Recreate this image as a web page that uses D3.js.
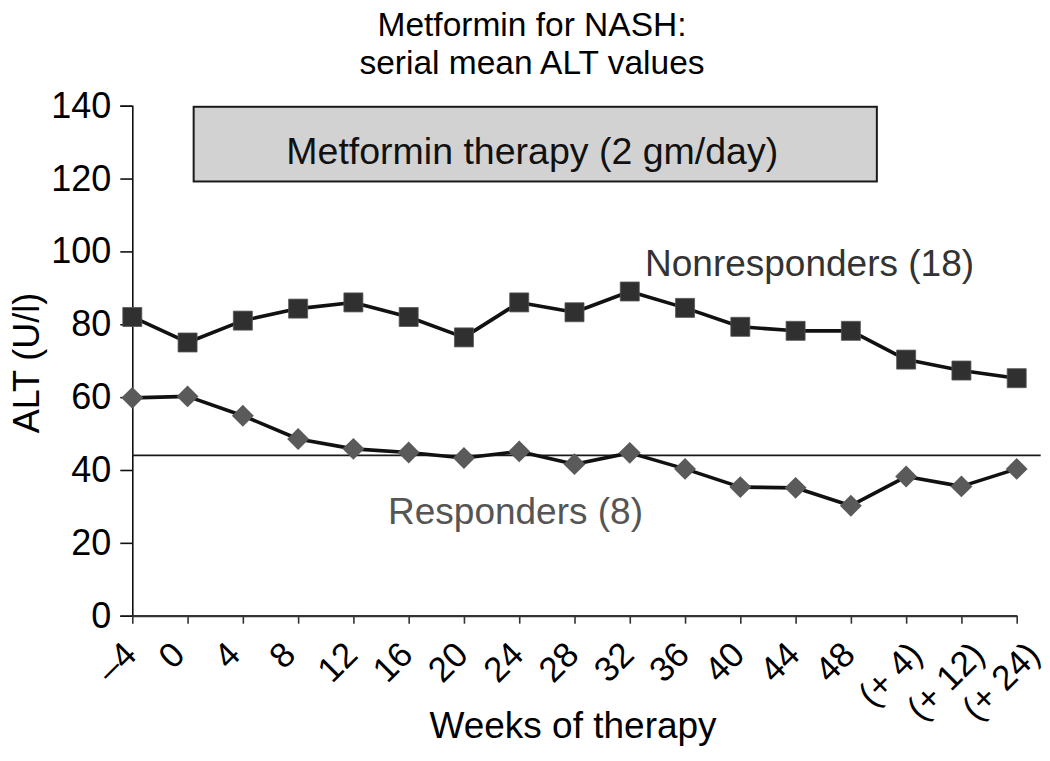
<!DOCTYPE html>
<html>
<head>
<meta charset="utf-8">
<script src="https://cdn.jsdelivr.net/npm/d3@7"></script>
<style>
  body { margin: 0; background: #fff; }
  svg { font-family: "Liberation Sans", Arial, Helvetica, sans-serif; }
</style>
</head>
<body>
<div id="chart"></div>
<script>
// categories along the x axis (weeks of therapy, then weeks after stopping)
var weeks = ["\u20134", "0", "4", "8", "12", "16", "20", "24", "28", "32", "36", "40", "44", "48", "(+ 4)", "(+ 12)", "(+ 24)"];

// mean ALT (U/l) per visit
var nonresponders = [82, 75, 81, 84.3, 86, 82, 76.4, 86, 83.3, 89, 84.5, 79.3, 78.2, 78.2, 70.3, 67.3, 65.2];
var responders = [59.8, 60.2, 54.9, 48.5, 45.8, 44.8, 43.3, 45.1, 41.6, 44.7, 40.3, 35.3, 35.1, 30.2, 38.2, 35.5, 40.3];

var yTicks = [0, 20, 40, 60, 80, 100, 120, 140];
var upperNormal = 44;           // horizontal reference line
var therapyWeeks = ["0", "48"]; // span of the grey therapy box
var therapyBand = [119.2, 139.7];

var _width = 1050, _height = 761;
var _fontSize = 36;
var _labelFont = 37;

var svg = d3.select("#chart").append("svg")
    .attr("width", _width)
    .attr("height", _height);

var x = d3.scalePoint()
    .domain(weeks)
    .range([132.3, 1016.7])
    .padding(0);

var y = d3.scaleLinear()
    .domain([0, 140])
    .range([615.7, 105.7]);

// title
svg.append("text")
    .attr("x", 532).attr("y", 36)
    .attr("text-anchor", "middle")
    .style("font-size", "33.5px")
    .text("Metformin for NASH:");
svg.append("text")
    .attr("x", 532).attr("y", 74)
    .attr("text-anchor", "middle")
    .style("font-size", "33.5px")
    .text("serial mean ALT values");

// therapy box
var step = x.step();
var boxX0 = x(therapyWeeks[0]) + step * 0.11;
var boxX1 = x(therapyWeeks[1]) + step * 0.47;
svg.append("rect")
    .attr("x", boxX0)
    .attr("y", y(therapyBand[1]))
    .attr("width", boxX1 - boxX0)
    .attr("height", y(therapyBand[0]) - y(therapyBand[1]))
    .attr("fill", "#d2d2d2")
    .attr("stroke", "#1a1a1a")
    .attr("stroke-width", 2);
svg.append("text")
    .attr("x", (boxX0 + boxX1) / 2 - 3)
    .attr("y", 164)
    .attr("text-anchor", "middle")
    .style("font-size", "37.5px")
    .attr("fill", "#111")
    .text("Metformin therapy (2 gm/day)");

// y axis
var yAxis = svg.append("g")
    .attr("transform", "translate(" + x(weeks[0]) + ",0)")
    .call(d3.axisLeft(y).tickValues(yTicks).tickSize(12).tickPadding(9));
yAxis.select(".domain").attr("stroke", "#111").attr("stroke-width", 1.6);
yAxis.selectAll(".tick line").attr("stroke", "#111").attr("stroke-width", 1.6);
yAxis.selectAll(".tick text")
    .attr("font-family", null)
    .style("font-size", _fontSize + "px")
    .attr("fill", "#000");

// x axis
var xAxis = svg.append("g")
    .attr("transform", "translate(0," + y(0) + ")")
    .call(d3.axisBottom(x).tickSize(8).tickSizeOuter(0));
xAxis.select(".domain").attr("stroke", "#333").attr("stroke-width", 2.2);
xAxis.selectAll(".tick line").attr("stroke", "#333").attr("stroke-width", 1.6);

// rotated tick labels: centre the rotated box below each tick
var labelDx = -17, labelTop = 639, labelSize = 35;
xAxis.selectAll(".tick text")
    .attr("font-family", null)
    .style("font-size", labelSize + "px")
    .attr("fill", "#000")
    .attr("text-anchor", "middle")
    .attr("dy", null)
    .attr("y", 0)
    .each(function(d) {
        var L = this.getComputedTextLength();
        var c = 0.72 * labelSize;
        var ax = labelDx + 0.354 * c;
        var ay = (labelTop - y(0)) + 0.707 * (c + L / 2);
        d3.select(this).attr("transform", "translate(" + ax + "," + ay + ") rotate(-45)");
    });

// axis titles
svg.append("text")
    .attr("x", 573).attr("y", 738)
    .attr("text-anchor", "middle")
    .style("font-size", _labelFont + "px")
    .text("Weeks of therapy");
svg.append("text")
    .attr("transform", "translate(39,363) rotate(-90)")
    .attr("text-anchor", "middle")
    .style("font-size", _fontSize + "px")
    .text("ALT (U/l)");

// reference line
svg.append("line")
    .attr("x1", x(weeks[0]))
    .attr("x2", x(weeks[weeks.length - 1]) + 24)
    .attr("y1", y(upperNormal))
    .attr("y2", y(upperNormal))
    .attr("stroke", "#1a1a1a")
    .attr("stroke-width", 1.6);

var line = d3.line()
    .x(function(d, i) { return x(weeks[i]); })
    .y(function(d) { return y(d); });

// series lines
[nonresponders, responders].forEach(function(s) {
    svg.append("path")
        .datum(s)
        .attr("d", line)
        .attr("fill", "none")
        .attr("stroke", "#111")
        .attr("stroke-width", 3.6)
        .attr("stroke-linejoin", "round");
});

// square markers
svg.append("g").selectAll("path")
    .data(nonresponders)
    .enter().append("path")
    .attr("transform", function(d, i) { return "translate(" + x(weeks[i]) + "," + y(d) + ")"; })
    .attr("d", d3.symbol().type(d3.symbolSquare).size(19 * 19))
    .attr("fill", "#303030")
    .attr("stroke", "#555")
    .attr("stroke-width", 0.8);

// diamond markers
svg.append("g").selectAll("path")
    .data(responders)
    .enter().append("path")
    .attr("transform", function(d, i) { return "translate(" + x(weeks[i]) + "," + y(d) + ") rotate(45)"; })
    .attr("d", d3.symbol().type(d3.symbolSquare).size(15.5 * 15.5))
    .attr("fill", "#5a5a5a");

// series labels
svg.append("text")
    .attr("x", 645).attr("y", 276)
    .style("font-size", _labelFont + "px")
    .attr("fill", "#333")
    .text("Nonresponders (18)");
svg.append("text")
    .attr("x", 388).attr("y", 524)
    .style("font-size", _labelFont + "px")
    .attr("fill", "#555")
    .text("Responders (8)");
</script>
</body>
</html>
